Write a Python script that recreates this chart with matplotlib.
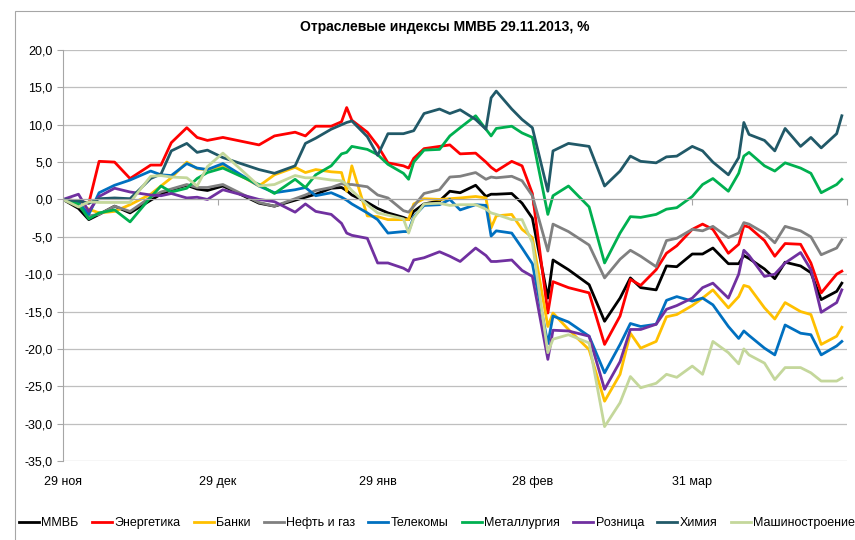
import matplotlib
matplotlib.use('Agg')
import matplotlib.pyplot as plt
from matplotlib.patches import Rectangle
from matplotlib.ticker import FuncFormatter, MultipleLocator
import pandas as pd

plt.rcParams['font.family'] = ['Liberation Sans', 'DejaVu Sans']

dates = ['2013-11-29', '2013-12-02', '2013-12-04', '2013-12-06', '2013-12-09', '2013-12-12',
         '2013-12-16', '2013-12-18', '2013-12-20', '2013-12-23', '2013-12-25', '2013-12-27',
         '2013-12-30', '2014-01-06', '2014-01-09', '2014-01-13', '2014-01-15', '2014-01-17',
         '2014-01-20', '2014-01-22', '2014-01-23', '2014-01-24', '2014-01-27', '2014-01-29',
         '2014-01-31', '2014-02-03', '2014-02-04', '2014-02-05', '2014-02-07', '2014-02-10',
         '2014-02-12', '2014-02-14', '2014-02-17', '2014-02-19', '2014-02-20', '2014-02-21',
         '2014-02-24', '2014-02-26', '2014-02-28', '2014-03-03', '2014-03-04', '2014-03-07',
         '2014-03-11', '2014-03-14', '2014-03-17', '2014-03-19', '2014-03-21', '2014-03-24',
         '2014-03-26', '2014-03-28', '2014-03-31', '2014-04-02', '2014-04-04', '2014-04-07',
         '2014-04-09', '2014-04-10', '2014-04-11', '2014-04-14', '2014-04-16', '2014-04-18',
         '2014-04-21', '2014-04-23', '2014-04-25', '2014-04-28', '2014-04-29']

micex = [0, -1.2, -2.7, -2.0, -0.9, -1.8, -0.1, 0.7, 1.3, 1.9, 1.4, 1.2, 1.8, -0.5, -0.9,
         -0.1, 0.3, 0.7, 1.5, 1.6, 1.2, 0.6, -0.4, -1.2, -1.8, -2.4, -2.7, -1.6, -0.6, -0.2,
         1.1, 0.9, 1.9, 0.4, 0.7, 0.7, 0.8, -0.5, -2.5, -13.2, -8.1, -9.4, -11.4, -16.3, -13.2,
         -10.5, -11.8, -12.1, -8.9, -9.0, -7.3, -7.3, -6.5, -8.6, -8.6, -7.5, -7.9, -9.3, -10.6,
         -8.4, -8.9, -9.8, -13.4, -12.3, -11.2]
power = [0, -0.2, -0.5, 5.1, 5.0, 2.8, 4.6, 4.6, 7.6, 9.6, 8.3, 7.9, 8.3, 7.3, 8.5,
         9.0, 8.5, 9.8, 9.8, 10.4, 12.3, 10.6, 9.0, 7.2, 4.9, 4.5, 4.2, 5.5, 6.8, 7.1,
         7.3, 6.1, 6.2, 5.0, 4.3, 3.8, 5.1, 4.5, 0.8, -15.2, -11.0, -11.8, -12.5, -19.4, -15.6,
         -10.7, -11.5, -9.4, -7.2, -6.2, -4.0, -3.3, -4.0, -7.2, -6.0, -3.5, -3.7, -5.5, -7.6,
         -5.9, -6.0, -8.5, -12.5, -10.0, -9.6]
banks = [0, -0.5, -1.3, -1.8, -1.6, -0.7, 0.7, 1.8, 2.9, 5.0, 4.1, 4.0, 4.5, 1.8, 3.3,
         4.3, 3.6, 4.0, 3.7, 3.6, 1.1, 4.5, -2.2, -2.3, -2.7, -2.7, -2.7, -0.6, 0.1, 0.0,
         0.1, 0.2, 0.4, 0.2, -3.8, -2.2, -2.0, -4.0, -5.1, -17.0, -15.2, -17.4, -20.1, -27.0, -23.4,
         -17.9, -19.9, -19.0, -15.7, -15.4, -14.2, -13.2, -12.1, -14.5, -13.0, -11.5, -11.7, -14.5, -16.0,
         -13.8, -15.0, -15.4, -19.4, -18.3, -17.1]
oil_gas = [0, -0.8, -2.2, -2.0, -0.9, -1.6, 0.3, 1.0, 1.4, 2.0, 1.6, 1.6, 2.0, -0.4, -0.9,
           0.1, 0.6, 1.2, 1.6, 2.1, 2.0, 2.0, 1.7, 0.6, 0.2, -1.5, -1.7, -0.9, 0.8, 1.3,
           3.0, 3.1, 3.6, 2.7, 3.0, 2.9, 3.1, 2.5, 0.5, -6.9, -3.3, -4.3, -6.1, -10.5, -8.0,
           -6.8, -7.6, -9.0, -5.5, -5.2, -4.0, -4.2, -3.6, -5.1, -4.5, -3.1, -3.3, -4.5, -5.8,
           -3.6, -4.2, -5.0, -7.4, -6.5, -5.4]
telecom = [0, -0.4, -2.0, 0.9, 1.9, 2.6, 3.8, 3.3, 3.2, 4.8, 4.2, 4.0, 4.8, 1.8, 0.9,
           1.3, 1.6, 0.5, 0.9, 0.3, -0.1, -0.6, -1.8, -2.7, -4.5, -4.3, -4.3, -2.3, -0.8, -0.7,
           0.0, -1.4, -0.7, -0.8, -4.9, -4.2, -4.5, -6.5, -8.6, -19.3, -15.6, -16.4, -18.3, -23.2, -19.4,
           -16.6, -17.0, -16.7, -13.5, -13.0, -13.6, -13.2, -14.1, -17.0, -18.6, -17.6, -18.2, -19.9, -20.8,
           -16.8, -17.9, -18.1, -20.8, -19.6, -19.0]
metals = [0, -0.6, -2.6, -1.8, -1.4, -3.0, 0.3, 1.8, 1.0, 1.5, 2.8, 3.6, 4.2, 2.0, 0.8,
          2.7, 1.6, 3.3, 4.5, 6.1, 6.3, 7.1, 6.7, 6.0, 4.7, 3.5, 2.7, 5.0, 6.6, 6.7,
          8.5, 9.6, 11.2, 9.4, 8.5, 9.5, 9.8, 8.9, 8.3, -2.0, 0.5, 1.8, -1.0, -8.5, -4.5,
          -2.3, -2.4, -2.0, -1.3, -1.1, 0.4, 2.0, 2.8, 1.1, 3.5, 5.8, 6.3, 4.5, 3.8,
          4.9, 4.2, 3.5, 0.9, 2.0, 2.7]
retail = [0, 0.7, -1.6, 0.4, 1.5, 1.0, 0.6, 0.5, 0.8, 0.2, 0.3, 0.0, 1.3, 0.0, -0.3,
          -1.7, -0.6, -1.6, -2.0, -3.2, -4.5, -4.8, -5.2, -8.5, -8.5, -9.2, -9.6, -8.1, -7.8, -7.0,
          -7.6, -8.3, -6.5, -7.5, -8.3, -8.3, -8.1, -9.5, -10.3, -21.4, -17.5, -17.6, -18.3, -25.4, -21.7,
          -17.4, -17.4, -16.7, -14.7, -14.2, -13.2, -11.8, -11.2, -13.2, -10.0, -6.8, -7.5, -10.3, -10.0,
          -8.5, -7.1, -9.4, -15.1, -13.8, -12.1]
chemicals = [0, -0.2, -0.5, 0.1, 0.2, 0.1, 2.8, 3.4, 6.5, 7.5, 6.3, 6.6, 5.6, 4.0, 3.5,
             4.5, 7.5, 8.2, 9.4, 10.0, 10.3, 10.5, 8.4, 5.9, 8.8, 8.8, 9.0, 9.2, 11.5, 12.1,
             11.5, 12.0, 10.7, 9.4, 13.6, 14.5, 12.1, 10.7, 9.6, 1.1, 6.5, 7.5, 7.1, 1.8, 3.8,
             5.8, 5.1, 4.9, 5.7, 5.8, 7.1, 6.5, 5.0, 3.3, 5.6, 10.3, 8.7, 7.9, 6.5,
             9.5, 7.1, 8.3, 6.9, 8.8, 11.2]
machinery = [0, -1.0, -0.3, -0.4, -0.4, -0.4, 3.1, 3.2, 3.0, 2.9, 1.8, 4.4, 6.2, 1.8, 2.0,
             3.2, 2.9, 2.9, 2.6, 2.5, 2.0, 1.2, -0.7, -1.8, -2.1, -2.6, -4.5, -2.5, -0.6, -0.5,
             -0.8, -0.7, -0.7, -1.3, -1.8, -2.0, -2.7, -2.7, -5.8, -20.5, -18.7, -18.1, -19.2, -30.4, -27.2,
             -23.7, -25.2, -24.6, -23.4, -23.8, -22.3, -23.4, -19.0, -20.5, -22.0, -20.0, -20.8, -21.9, -24.1,
             -22.5, -22.5, -23.2, -24.3, -24.3, -23.9]

names = ['ММВБ', 'Энергетика', 'Банки', 'Нефть и газ', 'Телекомы', 'Металлургия',
         'Розница', 'Химия', 'Машиностроение']
colors = ['#000000', '#FF0000', '#FFC000', '#808080', '#0070C0', '#00B050',
          '#7030A0', '#215968', '#C4D79B']
series = [micex, power, banks, oil_gas, telecom, metals, retail, chemicals, machinery]

tick_dates = ['2013-11-29', '2013-12-29', '2014-01-29', '2014-02-28', '2014-03-31']
tick_labels = ['29 ноя', '29 дек', '29 янв', '28 фев', '31 мар']

x = pd.to_datetime(dates)

fig = plt.figure(figsize=(8.55, 5.4), dpi=100)
ax = fig.add_axes([63 / 855, 1 - 461 / 540, 784 / 855, 411 / 540])

for vals, name, c in zip(series, names, colors):
    ax.plot(x, vals, color=c, lw=2.0, label=name, solid_joinstyle='round')

ax.set_ylim(-35, 20)
ax.set_xlim(pd.Timestamp('2013-11-29'), pd.Timestamp('2014-04-30'))
ax.yaxis.set_major_locator(MultipleLocator(5))
ax.yaxis.set_major_formatter(FuncFormatter(lambda v, p: f'{v:.1f}'.replace('.', ',')))
ax.grid(axis='y', color='#BFBFBF', lw=0.9)
ax.set_axisbelow(True)

for s in ['top', 'right']:
    ax.spines[s].set_visible(False)
ax.spines['left'].set_color('#A6A6A6')
ax.spines['bottom'].set_position(('data', 0))
ax.spines['bottom'].set_color('#A6A6A6')
ax.tick_params(axis='y', colors='#A6A6A6', length=4, labelcolor='black', labelsize=9)
ax.set_xticks(pd.to_datetime(tick_dates + ['2014-04-30']))
ax.tick_params(axis='x', colors='#A6A6A6', length=4, labelbottom=False)

# date labels sit under the plot, while the axis line crosses at zero
sec = ax.secondary_xaxis(0.0)
sec.set_xticks(pd.to_datetime(tick_dates), labels=tick_labels)
sec.tick_params(length=0, labelsize=9, pad=11)
sec.spines['bottom'].set_visible(False)

fig.text(445 / 855, 1 - 27 / 540, 'Отраслевые индексы ММВБ 29.11.2013, %',
         ha='center', va='center', fontsize=10, fontweight='bold')

fig.legend(loc='center', bbox_to_anchor=(437 / 855, 1 - 523 / 540), ncol=9, frameon=False,
           fontsize=9.0, handlelength=1.6, handletextpad=0.2, columnspacing=1.05)

fig.add_artist(Rectangle((15 / 855, -0.1), 1.2, 1.1 - 11 / 540, transform=fig.transFigure,
                         fill=False, edgecolor='#A6A6A6', lw=0.8))

fig.savefig('out.png', dpi=100)
